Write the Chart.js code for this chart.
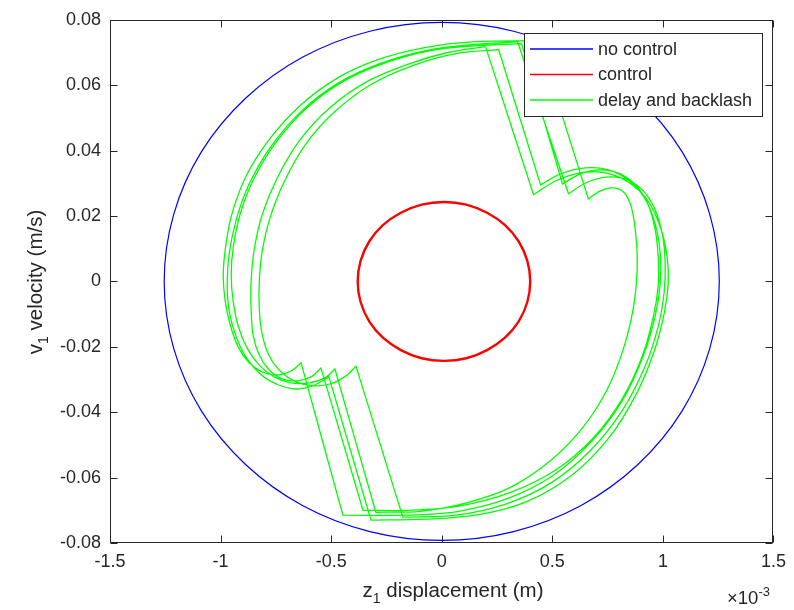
<!DOCTYPE html>
<html><head><meta charset="utf-8">
<script src="https://cdn.jsdelivr.net/npm/chart.js@4.4.1/dist/chart.umd.min.js"></script>
<style>html,body{margin:0;padding:0;background:#fff;}canvas{display:block;}</style>
</head><body>
<canvas id="c" width="794" height="610"></canvas>
<script>
// ---- axis ticks ----
const xTicks = [-1.5, -1, -0.5, 0, 0.5, 1, 1.5];
const xTickLabels = ['-1.5', '-1', '-0.5', '0', '0.5', '1', '1.5'];
const yTicks = [-0.08, -0.06, -0.04, -0.02, 0, 0.02, 0.04, 0.06, 0.08];
const yTickLabels = ['-0.08', '-0.06', '-0.04', '-0.02', '0', '0.02', '0.04', '0.06', '0.08'];
const seriesLabels = ['no control', 'control', 'delay and backlash'];

// ---- no control (z in 1e-3 m, v in m/s); first/last points overlap to close the loop ----
const noCtrlZ = [1.212, 1.255, 1.212, 1.087, 0.887, 0.628, 0.325, 0, -0.325, -0.628, -0.887, -1.087, -1.212, -1.255, -1.212, -1.087, -0.887, -0.628, -0.325, 0, 0.325, 0.628, 0.887, 1.087, 1.212, 1.255, 1.212];
const noCtrlV = [-0.0205, 0, 0.0205, 0.0396, 0.0560, 0.0686, 0.0765, 0.0792, 0.0765, 0.0686, 0.0560, 0.0396, 0.0205, 0, -0.0205, -0.0396, -0.0560, -0.0686, -0.0765, -0.0792, -0.0765, -0.0686, -0.0560, -0.0396, -0.0205, 0, 0.0205];

// ---- control ----
const ctrlZ = [0.387, 0.400, 0.387, 0.348, 0.286, 0.205, 0.111, 0.010, -0.091, -0.185, -0.266, -0.328, -0.367, -0.380, -0.367, -0.328, -0.266, -0.185, -0.091, 0.010, 0.111, 0.205, 0.286, 0.348, 0.387, 0.400, 0.387];
const ctrlV = [-0.0063, 0, 0.0063, 0.0122, 0.0172, 0.0210, 0.0235, 0.0243, 0.0235, 0.0210, 0.0172, 0.0122, 0.0063, 0, -0.0063, -0.0122, -0.0172, -0.0210, -0.0235, -0.0243, -0.0235, -0.0210, -0.0172, -0.0122, -0.0063, 0, 0.0063];

// ---- delay and backlash: five consecutive loops (corner points listed twice) ----
const loop1Z = [0.198, 0.198, 0.415, 0.415, 0.514, 0.627, 0.740, 0.843, 0.929, 0.988, 1.019, 1.024, 1.006, 0.961, 0.880, 0.753, 0.582, 0.379, 0.153, -0.072, -0.320, -0.320, -0.510, -0.510, -0.582, -0.659, -0.740, -0.816, -0.880, -0.929, -0.961, -0.970, -0.961, -0.929, -0.871, -0.771, -0.631, -0.465, -0.280, -0.072, 0.140];
const loop1V = [0.0718, 0.0718, 0.0265, 0.0265, 0.0307, 0.0332, 0.0332, 0.0304, 0.0249, 0.0167, 0.0076, -0.0006, -0.0097, -0.0213, -0.0344, -0.0481, -0.0596, -0.0675, -0.0715, -0.0727, -0.0730, -0.0730, -0.0292, -0.0292, -0.0319, -0.0329, -0.0316, -0.0286, -0.0237, -0.0170, -0.0091, -0.0006, 0.0085, 0.0189, 0.0298, 0.0414, 0.0523, 0.0608, 0.0666, 0.0706, 0.0724];
const loop2Z = [0.343, 0.343, 0.573, 0.573, 0.650, 0.740, 0.830, 0.907, 0.961, 0.997, 1.010, 1.006, 0.979, 0.920, 0.816, 0.672, 0.492, 0.289, 0.063, -0.176, -0.176, -0.388, -0.388, -0.433, -0.501, -0.582, -0.659, -0.726, -0.780, -0.812, -0.825, -0.825, -0.812, -0.776, -0.713, -0.618, -0.487, -0.320, -0.131, 0.068];
const loop2V = [0.0733, 0.0733, 0.0268, 0.0268, 0.0301, 0.0319, 0.0313, 0.0280, 0.0225, 0.0146, 0.0061, -0.0030, -0.0137, -0.0259, -0.0395, -0.0517, -0.0617, -0.0681, -0.0715, -0.0721, -0.0721, -0.0259, -0.0259, -0.0289, -0.0313, -0.0319, -0.0307, -0.0277, -0.0228, -0.0161, -0.0085, 0, 0.0091, 0.0195, 0.0304, 0.0417, 0.0517, 0.0602, 0.0660, 0.0697];
const loop3Z = [0.257, 0.257, 0.447, 0.447, 0.537, 0.650, 0.753, 0.843, 0.916, 0.965, 0.988, 0.988, 0.965, 0.911, 0.816, 0.681, 0.505, 0.302, 0.077, -0.162, -0.447, -0.447, -0.636, -0.636, -0.681, -0.744, -0.812, -0.871, -0.920, -0.956, -0.979, -0.988, -0.979, -0.952, -0.889, -0.789, -0.645, -0.474, -0.289, -0.077, 0.149];
const loop3V = [0.0709, 0.0709, 0.0295, 0.0295, 0.0329, 0.0347, 0.0341, 0.0310, 0.0256, 0.0176, 0.0085, -0.0006, -0.0106, -0.0228, -0.0365, -0.0487, -0.0593, -0.0663, -0.0703, -0.0715, -0.0715, -0.0715, -0.0249, -0.0249, -0.0274, -0.0286, -0.0277, -0.0249, -0.0201, -0.0134, -0.0061, 0.0015, 0.0097, 0.0198, 0.0316, 0.0426, 0.0535, 0.0621, 0.0678, 0.0715, 0.0733];
const loop4Z = [0.438, 0.438, 0.663, 0.663, 0.717, 0.776, 0.825, 0.857, 0.875, 0.884, 0.880, 0.862, 0.821, 0.749, 0.641, 0.492, 0.311, 0.108, -0.095, -0.298, -0.298, -0.483, -0.483, -0.528, -0.600, -0.681, -0.758, -0.825, -0.880, -0.920, -0.943, -0.952, -0.943, -0.911, -0.848, -0.749, -0.613, -0.447, -0.253, -0.050, 0.162];
const loop4V = [0.0736, 0.0736, 0.0252, 0.0252, 0.0277, 0.0286, 0.0271, 0.0228, 0.0158, 0.0076, -0.0006, -0.0097, -0.0207, -0.0329, -0.0444, -0.0548, -0.0630, -0.0678, -0.0703, -0.0706, -0.0706, -0.0268, -0.0268, -0.0295, -0.0310, -0.0310, -0.0292, -0.0256, -0.0204, -0.0137, -0.0061, 0.0018, 0.0103, 0.0207, 0.0316, 0.0426, 0.0529, 0.0611, 0.0669, 0.0706, 0.0721];
const loop5Z = [0.361, 0.361, 0.546, 0.546, 0.627, 0.717, 0.807, 0.880, 0.934, 0.965, 0.979, 0.979, 0.956, 0.907, 0.816, 0.686, 0.519, 0.311, 0.077, -0.149, -0.356, -0.356, -0.546, -0.546, -0.591, -0.654, -0.722, -0.780, -0.825, -0.853, -0.862, -0.862, -0.848, -0.812, -0.744, -0.645, -0.510, -0.338, -0.144, 0.027];
const loop5V = [0.0727, 0.0727, 0.0298, 0.0298, 0.0329, 0.0341, 0.0329, 0.0292, 0.0234, 0.0158, 0.0073, -0.0012, -0.0110, -0.0228, -0.0359, -0.0478, -0.0575, -0.0645, -0.0687, -0.0700, -0.0700, -0.0700, -0.0265, -0.0265, -0.0292, -0.0304, -0.0298, -0.0271, -0.0225, -0.0164, -0.0085, 0, 0.0097, 0.0204, 0.0316, 0.0429, 0.0529, 0.0611, 0.0666, 0.0700];

const FONT = "'Liberation Sans', Arial, Helvetica, sans-serif";
const TXT = '#262626';

function zip(zs, vs) { return zs.map((z, i) => ({ x: z, y: vs[i] })); }
const greenZ = [].concat(loop1Z, loop2Z, loop3Z, loop4Z, loop5Z, [loop1Z[0], loop1Z[1]]);
const greenV = [].concat(loop1V, loop2V, loop3V, loop4V, loop5V, [loop1V[0], loop1V[1]]);

const colors = ['#0000ff', '#ff0000', '#00ff00'];
const widths = [1.2, 2.4, 1.3];

// hide the overlapping first/last segments of a closed ellipse (they only supply tangents)
function closedSegment(n) {
  return {
    borderColor: c => (c.p0DataIndex === 0 || c.p1DataIndex === n - 1) ? 'rgba(0,0,0,0)' : undefined
  };
}

function drawRich(ctx, parts, x, y) {
  parts.forEach(p => {
    ctx.font = p.size + 'px ' + FONT;
    ctx.fillText(p.t, x, y + (p.dy || 0));
    x += ctx.measureText(p.t).width;
  });
}
function richWidth(ctx, parts) {
  let w = 0;
  parts.forEach(p => { ctx.font = p.size + 'px ' + FONT; w += ctx.measureText(p.t).width; });
  return w;
}

const decor = {
  id: 'decor',
  beforeDatasetsDraw(chart) {
    const { ctx, chartArea: a, scales: { x, y } } = chart;
    ctx.save();
    ctx.strokeStyle = TXT;
    ctx.lineWidth = 1;
    const L = Math.round(a.left) + 0.5, R = Math.round(a.right) - 0.5, T = Math.round(a.top) + 0.5, B = Math.round(a.bottom) - 0.5;
    ctx.strokeRect(L, T, R - L, B - T);
    ctx.beginPath();
    xTicks.forEach(v => {
      const px = Math.round(x.getPixelForValue(v)) + 0.5;
      ctx.moveTo(px, B); ctx.lineTo(px, B - 7);
      ctx.moveTo(px, T); ctx.lineTo(px, T + 7);
    });
    yTicks.forEach(v => {
      const py = Math.round(y.getPixelForValue(v)) + 0.5;
      ctx.moveTo(L, py); ctx.lineTo(L + 7, py);
      ctx.moveTo(R, py); ctx.lineTo(R - 7, py);
    });
    ctx.stroke();
    ctx.restore();
  },
  afterDraw(chart) {
    const { ctx } = chart;
    ctx.save();
    // legend
    ctx.fillStyle = '#fff';
    ctx.fillRect(524.5, 33.5, 238, 83);
    ctx.strokeStyle = TXT;
    ctx.lineWidth = 1;
    ctx.strokeRect(524.5, 33.5, 238, 83);
    const rows = [49, 74.5, 100];
    seriesLabels.forEach((lab, i) => {
      ctx.strokeStyle = colors[i];
      ctx.lineWidth = 1.5;
      ctx.beginPath(); ctx.moveTo(530, rows[i]); ctx.lineTo(593, rows[i]); ctx.stroke();
      ctx.fillStyle = TXT;
      ctx.font = '18px ' + FONT;
      ctx.textBaseline = 'middle';
      ctx.textAlign = 'left';
      ctx.fillText(lab, 598, rows[i] + 1);
    });
    // axis titles
    ctx.fillStyle = TXT;
    ctx.textBaseline = 'alphabetic';
    ctx.textAlign = 'left';
    const xt = [{ t: 'z', size: 20.5 }, { t: '1', size: 14, dy: 6 }, { t: ' displacement (m)', size: 20.5 }];
    drawRich(ctx, xt, 453 - richWidth(ctx, xt) / 2, 597);
    const yt = [{ t: 'v', size: 20.5 }, { t: '1', size: 14, dy: 6 }, { t: ' velocity (m/s)', size: 20.5 }];
    ctx.save();
    ctx.translate(42, 282);
    ctx.rotate(-Math.PI / 2);
    drawRich(ctx, yt, -richWidth(ctx, yt) / 2, 0);
    ctx.restore();
    const ex = [{ t: '\u00d710', size: 18.5 }, { t: '-3', size: 13, dy: -8 }];
    drawRich(ctx, ex, 727, 604);
    ctx.restore();
  }
};

const datasets = [
  { label: seriesLabels[0], data: zip(noCtrlZ, noCtrlV), segment: closedSegment(noCtrlZ.length) },
  { label: seriesLabels[1], data: zip(ctrlZ, ctrlV), segment: closedSegment(ctrlZ.length) },
  { label: seriesLabels[2], data: zip(greenZ, greenV) }
].map((d, i) => Object.assign(d, {
  showLine: true, borderColor: colors[i], borderWidth: widths[i], pointRadius: 0,
  pointHoverRadius: 0, tension: 0.335, fill: false, cubicInterpolationMode: 'default'
}));

new Chart(document.getElementById('c'), {
  type: 'scatter',
  data: { datasets },
  options: {
    responsive: false,
    animation: false,
    devicePixelRatio: 1,
    layout: { padding: { left: 0, right: 19, top: 17, bottom: 0 } },
    plugins: { legend: { display: false }, tooltip: { enabled: false } },
    scales: {
      x: {
        type: 'linear', min: -1.5, max: 1.5,
        grid: { display: false, drawTicks: false }, border: { display: false },
        afterBuildTicks: s => { s.ticks = xTicks.map(v => ({ value: v })); },
        afterFit: s => { s.height = 67; },
        ticks: { padding: 8, color: TXT, font: { size: 18, family: FONT }, maxRotation: 0, autoSkip: false,
          callback: (v, i) => xTickLabels[i] }
      },
      y: {
        type: 'linear', min: -0.08, max: 0.08,
        grid: { display: false, drawTicks: false }, border: { display: false },
        afterBuildTicks: s => { s.ticks = yTicks.map(v => ({ value: v })); },
        afterFit: s => { s.width = 110; },
        ticks: { padding: 9, color: TXT, font: { size: 18, family: FONT }, autoSkip: false,
          callback: (v, i) => yTickLabels[i] }
      }
    }
  },
  plugins: [decor]
});
</script>
</body></html>
